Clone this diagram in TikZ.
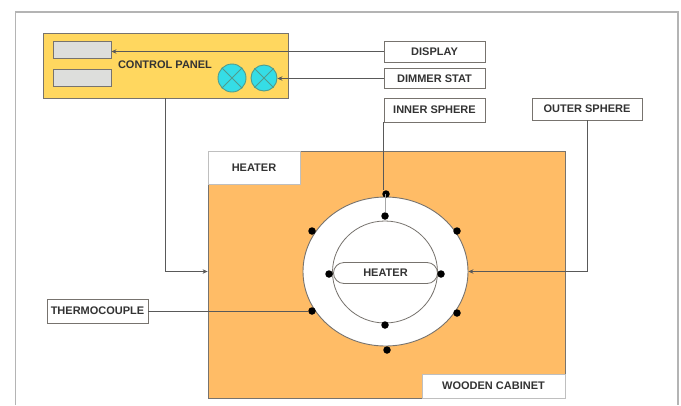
\documentclass[tikz,border=0pt]{standalone}
\usepackage{fontspec}
\setmainfont{Liberation Sans}
\usetikzlibrary{arrows.meta,shapes.geometric,shapes.misc}
\definecolor{panelc}{HTML}{FFD75F}
\definecolor{cabc}{HTML}{FFBC66}
\definecolor{edgec}{HTML}{77736E}
\definecolor{slotc}{HTML}{DDDEDC}
\definecolor{lampc}{HTML}{35DDE6}
\definecolor{lampe}{HTML}{4F9C8E}
\definecolor{framec}{HTML}{B4B4B4}
\tikzset{
  lab/.style={font=\bfseries\fontsize{11}{12}\selectfont,text=black!80},
  box/.style={draw=edgec,line width=.9pt,fill=white,rectangle,inner sep=0pt,lab},
  softbox/.style={box,draw=black!25},
  link/.style={draw=black!65,line width=.7pt},
  linkar/.style={link,-{Stealth[length=5pt,width=4.5pt]}},
  dot/.style={circle,fill=black,draw=none,minimum size=7.5pt,inner sep=0pt},
  slot/.style={rectangle,draw=edgec,line width=.9pt,fill=slotc,minimum width=58pt,minimum height=17pt,inner sep=0pt},
}
\begin{document}
\begin{tikzpicture}[x=1pt,y=-1pt]
\useasboundingbox (0,0) rectangle (681,405);
\fill[white] (0,0) rectangle (681,405);
\draw[framec,line width=1.5pt] (15.5,405) -- (15.5,12) -- (678,12) -- (678,405);
% control panel
\node[rectangle,draw=edgec,line width=.9pt,fill=panelc,minimum width=245pt,minimum height=65pt,inner sep=0pt] (panel) at (165.5,65.5) {};
\node[slot] (slotA) at (82,49.5) {};
\node[slot] (slotB) at (82,77.5) {};
\node[lab,inner sep=0pt] (paneltext) at (165,65) {CONTROL PANEL};
\node[circle,draw=lampe,line width=.9pt,fill=lampc,minimum size=28pt,inner sep=0pt] (lampA) at (232,78) {};
\node[circle,draw=lampe,line width=.9pt,fill=lampc,minimum size=26pt,inner sep=0pt] (lampB) at (264,78) {};
\draw[lampe,line width=.8pt] (lampA.north west) -- (lampA.south east) (lampA.north east) -- (lampA.south west);
\draw[lampe,line width=.8pt] (lampB.north west) -- (lampB.south east) (lampB.north east) -- (lampB.south west);
% cabinet
\node[rectangle,draw=edgec,line width=.8pt,fill=cabc,minimum width=357pt,minimum height=247pt,inner sep=0pt] (cabinet) at (386.5,274.5) {};
\node[softbox,minimum width=92pt,minimum height=33pt] (heaterlabel) at (254,167.5) {HEATER};
\node[softbox,minimum width=143pt,minimum height=24pt] (woodlabel) at (493.5,386) {WOODEN CABINET};
% spheres
\node[ellipse,draw=edgec,line width=.9pt,fill=white,minimum width=165pt,minimum height=149pt,inner sep=0pt] (outer) at (385.5,271.5) {};
\node[ellipse,draw=edgec,line width=.8pt,fill=white,minimum width=105pt,minimum height=102pt,inner sep=0pt] (inner) at (385,272) {};
\node[rounded rectangle,draw=edgec,line width=.8pt,fill=white,minimum width=104pt,minimum height=21pt,inner sep=0pt,lab] (heatercore) at (385.5,273) {HEATER};
% labels
\node[box,minimum width=101pt,minimum height=21pt] (display) at (434.5,51.5) {DISPLAY};
\node[box,minimum width=101pt,minimum height=20pt] (dimmer) at (434.5,78.5) {DIMMER STAT};
\node[box,minimum width=101pt,minimum height=24pt] (innerlabel) at (434.5,110) {INNER SPHERE};
\node[box,minimum width=110pt,minimum height=22pt] (outerlabel) at (587,109) {OUTER SPHERE};
\node[box,minimum width=101pt,minimum height=24pt] (thermo) at (97.5,311) {THERMOCOUPLE};
% dots
\node[dot] (d1) at (386,194) {};
\node[dot] (d2) at (385,216) {};
\node[dot] (d3) at (312,231) {};
\node[dot] (d4) at (457,231) {};
\node[dot] (d5) at (329,274) {};
\node[dot] (d6) at (441,274) {};
\node[dot] (d7) at (312,311) {};
\node[dot] (d8) at (457,313) {};
\node[dot] (d9) at (385,325) {};
\node[dot] (d10) at (387,350) {};
% connectors
\draw[linkar] (display.west) -- (slotA.east |- display.west);
\draw[linkar] (dimmer.west) -- (lampB.east |- dimmer.west);
\draw[link] (innerlabel.south west) -- (innerlabel.south west |- d1.north);
\draw[link,draw=black!35,line width=1pt] (d2) -- (d2 |- d1);
\draw[linkar] (outerlabel.south) -- (outerlabel.south |- outer.east) -- (outer.east);
\coordinate (heatin) at (cabinet.west |- outer.center);
\draw[linkar] (panel.south) -- (panel.south |- heatin) -- (heatin);
\draw[link] (thermo.east) -- (d7);
\end{tikzpicture}
\end{document}
